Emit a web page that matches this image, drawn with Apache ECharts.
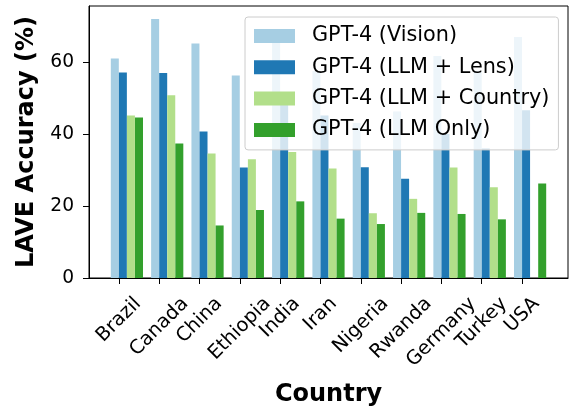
<!DOCTYPE html>
<html>
<head>
<meta charset="utf-8">
<script src="https://cdn.jsdelivr.net/npm/echarts@6/dist/echarts.min.js"></script>
<style>
  html, body { margin: 0; padding: 0; background: #fff; }
  #chart { width: 569px; height: 412px; }
</style>
</head>
<body>
<div id="chart"></div>
<script>
const countries = ['Brazil', 'Canada', 'China', 'Ethiopia', 'India', 'Iran', 'Nigeria', 'Rwanda', 'Germany', 'Turkey', 'USA'];
const seriesNames = ['GPT-4 (Vision)', 'GPT-4 (LLM + Lens)', 'GPT-4 (LLM + Country)', 'GPT-4 (LLM Only)'];
const vision  = [61.0, 72.0, 65.2, 56.3, 65.6, 57.5, 43.1, 46.3, 61.7, 57.5, 67.0];
const lens    = [57.1, 57.0, 40.7, 30.7, 48.2, 45.2, 30.8, 27.6, 40.0, 36.0, 46.6];
const country = [45.2, 50.8, 34.6, 33.0, 35.0, 30.4, 18.0, 22.0, 30.7, 25.2, 0];
const only    = [44.6, 37.4, 14.6, 18.9, 21.3, 16.5, 15.0, 18.1, 17.8, 16.3, 26.3];
const yTicks = [0, 20, 40, 60];

const colors = ['#a6cee3', '#1f78b4', '#b2df8a', '#33a02c'];
const offsets = [-0.1, 0.1, 0.3, 0.5]; // bar centres relative to the tick
const FONT = 'DejaVu Sans';
const fs = 18.67;
const xfs = 19.4;

// rotated labels: matplotlib centres the rotated box under the tick, top-aligned
const ctx = document.createElement('canvas').getContext('2d');
ctx.font = xfs + 'px "' + FONT + '"';
const rich = {};
countries.forEach((c, i) => {
  const L = ctx.measureText(c).width;
  const p = (L + 22) / 2;
  rich['l' + i] = { fontFamily: FONT, fontSize: xfs, color: '#000', padding: [p, p, 0, 0] };
});

const chart = echarts.init(document.getElementById('chart'));
const all = [vision, lens, country, only];

chart.setOption({
  animation: false,
  textStyle: { fontFamily: FONT },
  grid: {
    left: 89, right: 1, top: 6, bottom: 133,
    show: true, borderColor: '#000', borderWidth: 1, backgroundColor: 'transparent'
  },
  legend: {
    left: 245, top: 17,
    orient: 'vertical',
    itemWidth: 41, itemHeight: 14, itemGap: 7.3,
    padding: [7, 9, 8, 9],
    backgroundColor: 'rgba(255,255,255,0.8)',
    borderColor: '#cccccc', borderWidth: 1, borderRadius: 3,
    icon: 'rect',
    textStyle: { fontFamily: FONT, fontSize: 20.8, color: '#000', lineHeight: 24, padding: [0, 0, 0, 12] },
    data: seriesNames
  },
  xAxis: {
    type: 'value',
    min: -0.74, max: 11.14,
    name: 'Country', nameLocation: 'middle', nameGap: 105,
    nameTextStyle: { fontFamily: FONT, fontSize: 24, fontWeight: 'bold', color: '#000' },
    axisLine: { show: true, onZero: false, lineStyle: { color: '#000', width: 1 } },
    axisTick: { show: true, length: 6, customValues: countries.map((c, i) => i), lineStyle: { color: '#000' } },
    axisLabel: {
      customValues: countries.map((c, i) => i),
      rotate: 45, align: 'center', verticalAlign: 'middle', margin: 15,
      formatter: v => '{l' + v + '|' + countries[v] + '}',
      rich: rich
    },
    splitLine: { show: false }
  },
  yAxis: {
    type: 'value',
    min: 0, max: 75.6,
    name: 'LAVE Accuracy (%)', nameLocation: 'middle', nameGap: 50,
    nameTextStyle: { fontFamily: FONT, fontSize: 24, fontWeight: 'bold', color: '#000' },
    axisLine: { show: true, onZero: false, lineStyle: { color: '#000', width: 1 } },
    axisTick: { show: true, length: 6, customValues: yTicks, lineStyle: { color: '#000' } },
    axisLabel: { customValues: yTicks, margin: 15, fontFamily: FONT, fontSize: fs, color: '#000' },
    splitLine: { show: false }
  },
  series: all.map((vals, s) => ({
    name: seriesNames[s],
    type: 'bar',
    barWidth: 8,
    barGap: '-100%',
    itemStyle: { color: colors[s] },
    data: vals.map((v, i) => [i + offsets[s], v])
  }))
});
</script>
</body>
</html>
